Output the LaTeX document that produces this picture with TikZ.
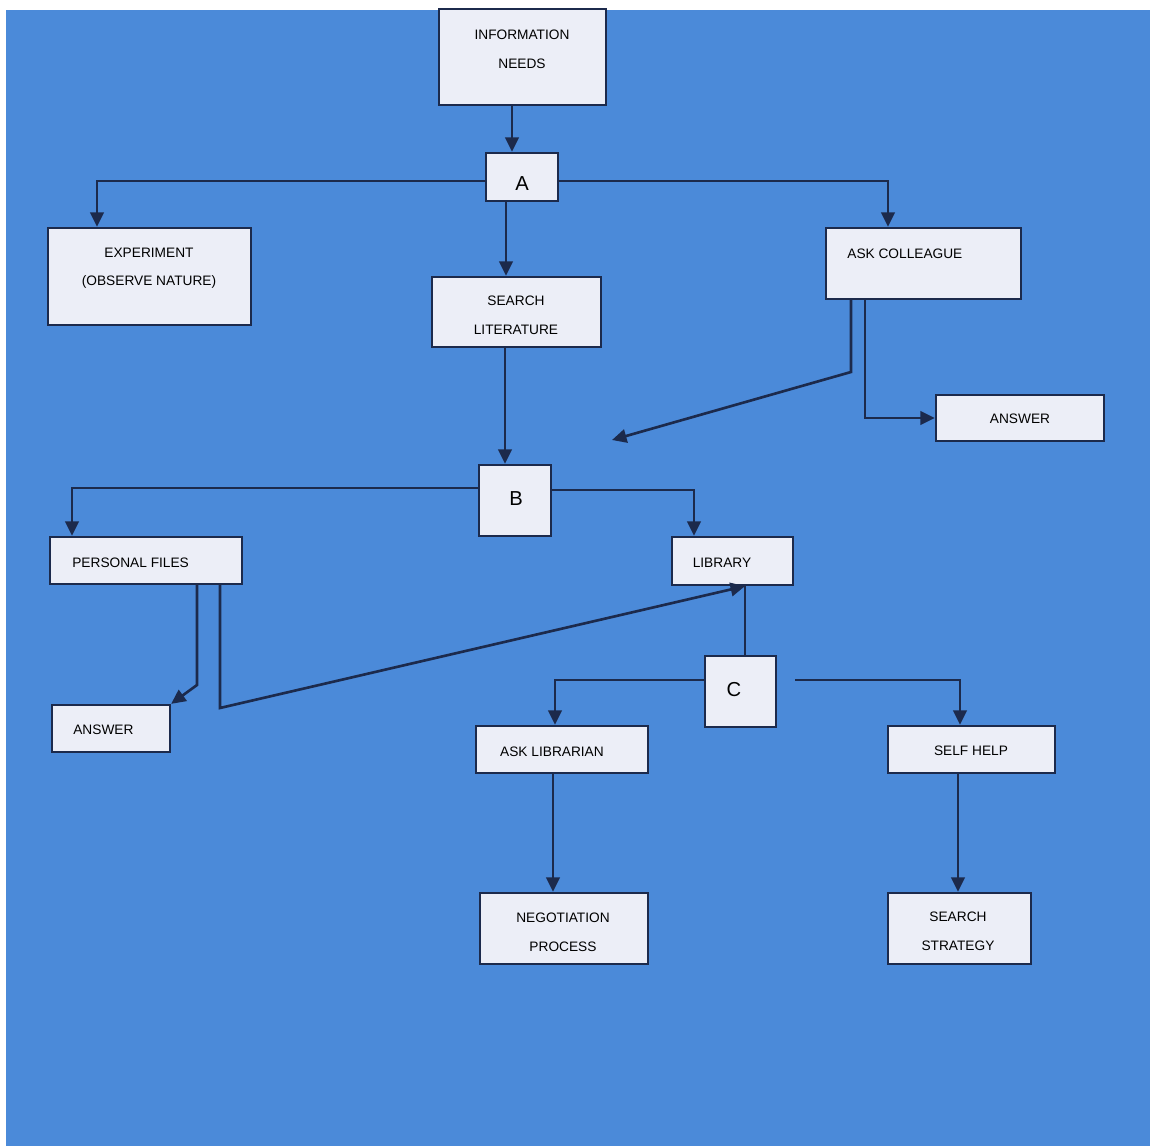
\documentclass[tikz,border=0pt]{standalone}
\usepackage{fontspec}
\setmainfont{Liberation Sans}
\usetikzlibrary{fit,arrows.meta}
\definecolor{bg}{HTML}{4B8AD9}
\definecolor{ink}{HTML}{1C2A4C}
\definecolor{boxfill}{HTML}{ECEEF7}
\begin{document}
\begin{tikzpicture}[x=0.02cm,y=-0.02cm,
  box/.style={draw=ink, line width=1.3pt, fill=boxfill, inner sep=0pt},
  txt/.style={anchor=base, inner sep=0pt, text=black, font=\fontsize{7.8}{9}\selectfont},
  txtw/.style={anchor=base west, inner sep=0pt, text=black, font=\fontsize{7.8}{9}\selectfont},
  big/.style={anchor=base, inner sep=0pt, text=black, font=\fontsize{11.5}{14}\selectfont},
  conn/.style={draw=ink, line width=1.5pt},
  arr/.style={conn, -{Triangle[length=0.29cm,width=0.27cm]}}]
\useasboundingbox (0,0) rectangle (1150,1146);
\fill[white] (0,0) rectangle (1150,1146);
\fill[bg] (6,10) rectangle (1150,1146);

% boxes
\node[box, fit={(439,9)(606,105)}] (info) {};
\node[box, fit={(486,153)(558,201)}] (A) {};
\node[box, fit={(48,228)(251,325)}] (exp) {};
\node[box, fit={(432,277)(601,347)}] (lit) {};
\node[box, fit={(826,228)(1021,299)}] (col) {};
\node[box, fit={(936,395)(1104,441)}] (ans1) {};
\node[box, fit={(479,465)(551,536)}] (B) {};
\node[box, fit={(50,537)(242,584)}] (pf) {};
\node[box, fit={(672,537)(793,585)}] (lib) {};
\node[box, fit={(705,656)(776,727)}] (C) {};
\node[box, fit={(52,705)(170,752)}] (ans2) {};
\node[box, fit={(476,726)(648,773)}] (al) {};
\node[box, fit={(888,726)(1055,773)}] (sh) {};
\node[box, fit={(480,893)(648,964)}] (neg) {};
\node[box, fit={(888,893)(1031,964)}] (ss) {};

% texts
\node[txt] (t-info1) at (522,39) {INFORMATION};
\node[txt] (t-info2) at (522,69) {NEEDS};
\node[big] (t-A) at (522,190) {A};
\node[txt] (t-exp1) at (149,257) {EXPERIMENT};
\node[txt] (t-exp2) at (149,285) {(OBSERVE NATURE)};
\node[txt] (t-lit1) at (516,305) {SEARCH};
\node[txt] (t-lit2) at (516,334) {LITERATURE};
\node[txtw] (t-col) at (847,258) {ASK COLLEAGUE};
\node[txt] (t-ans1) at (1020,423) {ANSWER};
\node[big] (t-B) at (516,505) {B};
\node[txtw] (t-pf) at (72,567) {PERSONAL FILES};
\node[txt] (t-lib) at (722,567) {LIBRARY};
\node[big] (t-C) at (734,696) {C};
\node[txtw] (t-ans2) at (73,734) {ANSWER};
\node[txt] (t-al) at (552,756) {ASK LIBRARIAN};
\node[txt] (t-sh) at (971,755) {SELF HELP};
\node[txt] (t-neg1) at (563,922) {NEGOTIATION};
\node[txt] (t-neg2) at (563,951) {PROCESS};
\node[txt] (t-ss1) at (958,921) {SEARCH};
\node[txt] (t-ss2) at (958,950) {STRATEGY};

% connectors
\coordinate (f1) at (612,440);
\draw[arr] (info.south -| 512,0) -- (A.north -| 512,0);
\draw[arr] (A.west |- 0,181) -| (exp.north -| 97,0);
\draw[arr] (A.east |- 0,181) -| (col.north -| 888,0);
\draw[arr] (A.south -| 506,0) -- (lit.north -| 506,0);
\draw[arr] (col.south -| 851,0) -- (851,372) -- (f1);
\draw[arr] (col.south -| 865,0) |- (ans1.west);
\draw[arr] (lit.south -| 505,0) -- (B.north -| 505,0);
\draw[arr] (B.west |- 0,488) -| (pf.north -| 72,0);
\draw[arr] (B.east |- 0,490) -| (lib.north -| 694,0);
\draw[arr] (pf.south -| 197,0) -- (197,685) -- (ans2.north east);
\draw[arr] (pf.south -| 220,0) -- (220,708) -- (lib.south -| 745,0);
\draw[conn] (C.north -| 745,0) -- (lib.south -| 745,0);
\draw[arr] (C.west |- 0,680) -| (al.north -| 555,0);
\draw[arr] (C.east) ++(18,-11.5) -| (sh.north -| 960,0);
\draw[arr] (al.south -| 553,0) -- (neg.north -| 553,0);
\draw[arr] (sh.south -| 958,0) -- (ss.north -| 958,0);
\end{tikzpicture}
\end{document}
